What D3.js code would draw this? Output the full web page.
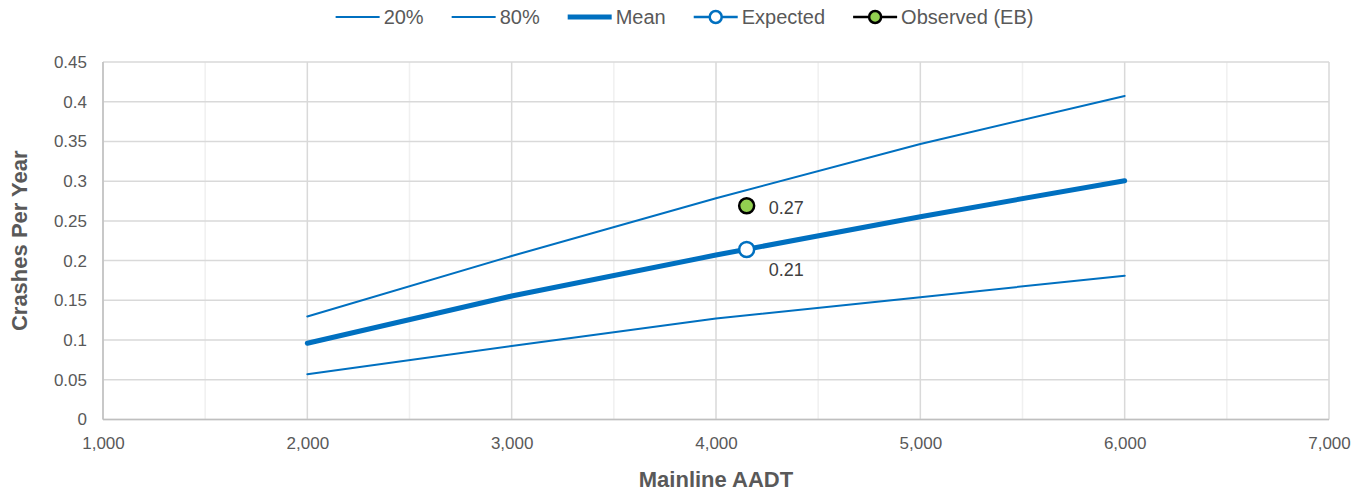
<!DOCTYPE html>
<html>
  <head>
    <meta charset="utf-8">
    <title>Crashes per year vs mainline AADT</title>
    <script src="https://d3js.org/d3.v7.min.js"></script>
    <style>
      body { margin: 0; background: #fff; font-family: "Liberation Sans", Arial, sans-serif; }
      svg { display: block; }
    </style>
  </head>
  <body>
    <svg id="chart" width="1369" height="492"></svg>
    <script>
      // data
      aadt = [2000, 3000, 4000, 5000, 6000];
      p20 = [0.057, 0.0925, 0.127, 0.154, 0.181];
      p80 = [0.1296, 0.2058, 0.2785, 0.3468, 0.4072];
      mean = [0.096, 0.1555, 0.207, 0.2553, 0.3006];
      expected = [[4150, 0.214]];
      observed = [[4150, 0.269]];
      xTicks = [1000, 2000, 3000, 4000, 5000, 6000, 7000];
      yTicks = [0, 0.05, 0.1, 0.15, 0.2, 0.25, 0.3, 0.35, 0.4, 0.45];
      legendItems = ["20%", "80%", "Mean", "Expected", "Observed (EB)"];

      blue = "#0070C0";
      grey = "#595959";
      svg = d3.select("#chart");
      width = 1369;

      x = d3.scaleLinear().domain([1000, 7000]).range([103, 1329]);
      y = d3.scaleLinear().domain([0, 0.45]).range([419.5, 62]);

      // minor vertical gridlines
      svg.append("g")
        .selectAll("line")
          .data(d3.range(1500, 7000, 1000))
        .enter().append("line")
          .attr("x1", function(d) { return x(d); })
          .attr("x2", function(d) { return x(d); })
          .attr("y1", y(0))
          .attr("y2", y(0.45))
          .style("stroke", "#f0f0f0")
          .style("stroke-width", 1.5);
      // major gridlines
      svg.append("g")
        .selectAll("line")
          .data(xTicks)
        .enter().append("line")
          .attr("x1", function(d) { return x(d); })
          .attr("x2", function(d) { return x(d); })
          .attr("y1", y(0))
          .attr("y2", y(0.45))
          .style("stroke", "#d9d9d9")
          .style("stroke-width", 1.5);
      svg.append("g")
        .selectAll("line")
          .data(yTicks)
        .enter().append("line")
          .attr("x1", x(1000))
          .attr("x2", x(7000))
          .attr("y1", function(d) { return y(d); })
          .attr("y2", function(d) { return y(d); })
          .style("stroke", "#d9d9d9")
          .style("stroke-width", 1.5);
      // axis lines
      svg.append("line")
        .attr("x1", x(1000)).attr("x2", x(7000))
        .attr("y1", y(0)).attr("y2", y(0))
        .style("stroke", "#bfbfbf").style("stroke-width", 1.5);
      svg.append("line")
        .attr("x1", x(1000)).attr("x2", x(1000))
        .attr("y1", y(0)).attr("y2", y(0.45))
        .style("stroke", "#bfbfbf").style("stroke-width", 1.5);

      // tick labels
      xAxis = d3.axisBottom(x)
        .tickValues(xTicks)
        .tickFormat(d3.format(","))
        .tickSize(0)
        .tickPadding(17);
      svg.append("g")
        .attr("transform", "translate(0," + y(0) + ")")
        .call(xAxis)
        .call(function(g) { g.select(".domain").remove(); })
        .selectAll("text")
          .style("font-size", "17px")
          .style("fill", grey)
          .style("font-family", "Liberation Sans, Arial, sans-serif");
      yAxis = d3.axisLeft(y)
        .tickValues(yTicks)
        .tickFormat(function(d) { return d3.format("~g")(d); })
        .tickSize(0)
        .tickPadding(16);
      svg.append("g")
        .attr("transform", "translate(" + x(1000) + ",0)")
        .call(yAxis)
        .call(function(g) { g.select(".domain").remove(); })
        .selectAll("text")
          .style("font-size", "17px")
          .style("fill", grey)
          .style("font-family", "Liberation Sans, Arial, sans-serif");

      // axis titles
      svg.append("text")
        .attr("x", (x(1000) + x(7000)) / 2)
        .attr("y", 487)
        .attr("text-anchor", "middle")
        .style("font-size", "22px")
        .style("font-weight", "bold")
        .style("fill", grey)
        .text("Mainline AADT");
      svg.append("text")
        .attr("transform", "translate(27," + (y(0) + y(0.45)) / 2 + ") rotate(-90)")
        .attr("text-anchor", "middle")
        .style("font-size", "22px")
        .style("font-weight", "bold")
        .style("fill", grey)
        .text("Crashes Per Year");

      // lines
      line = d3.line()
        .x(function(d) { return x(d[0]); })
        .y(function(d) { return y(d[1]); });
      function pairs(vals) { return aadt.map(function(a, i) { return [a, vals[i]]; }); }
      [[p20, 2], [p80, 2], [mean, 5]].forEach(function(s) {
        svg.append("path")
          .datum(pairs(s[0]))
          .attr("d", line)
          .style("fill", "none")
          .style("stroke", blue)
          .style("stroke-width", s[1])
          .style("stroke-linecap", "round")
          .style("stroke-linejoin", "round");
      });

      // points and labels
      svg.selectAll(".expected")
          .data(expected)
        .enter().append("circle")
          .attr("cx", function(d) { return x(d[0]); })
          .attr("cy", function(d) { return y(d[1]); })
          .attr("r", 7.5)
          .style("fill", "#fff")
          .style("stroke", blue)
          .style("stroke-width", 2.5);
      svg.selectAll(".observed")
          .data(observed)
        .enter().append("circle")
          .attr("cx", function(d) { return x(d[0]); })
          .attr("cy", function(d) { return y(d[1]); })
          .attr("r", 7.5)
          .style("fill", "#92D050")
          .style("stroke", "#000")
          .style("stroke-width", 2.5);
      svg.selectAll(".lblExp")
          .data(expected)
        .enter().append("text")
          .attr("x", function(d) { return x(d[0]) + 22; })
          .attr("y", function(d) { return y(d[1]) + 27; })
          .style("font-size", "18px")
          .style("fill", "#404040")
          .text(function(d) { return d3.format(".2f")(d[1]); });
      svg.selectAll(".lblObs")
          .data(observed)
        .enter().append("text")
          .attr("x", function(d) { return x(d[0]) + 22; })
          .attr("y", function(d) { return y(d[1]) + 8; })
          .style("font-size", "18px")
          .style("fill", "#404040")
          .text(function(d) { return d3.format(".2f")(d[1]); });

      // legend
      legend = svg.append("g");
      let pos = 0;
      legendItems.forEach(function(name, i) {
        let g = legend.append("g").attr("transform", "translate(" + pos + ",0)");
        let col = i == 4 ? "#000" : blue;
        g.append("line")
          .attr("x1", 0).attr("x2", 44)
          .attr("y1", 17).attr("y2", 17)
          .style("stroke", col)
          .style("stroke-width", i == 2 ? 5 : (i > 2 ? 2.5 : 2));
        if (i > 2) {
          g.append("circle")
            .attr("cx", 22).attr("cy", 17).attr("r", 6)
            .style("fill", i == 3 ? "#fff" : "#92D050")
            .style("stroke", col)
            .style("stroke-width", 2.5);
        }
        let t = g.append("text")
          .attr("x", 48).attr("y", 24)
          .style("font-size", "20px")
          .style("fill", grey)
          .text(name);
        pos += 48 + t.node().getComputedTextLength() + 28;
      });
      pos -= 28;
      legend.attr("transform", "translate(" + (width / 2 - pos / 2) + ",0)");
    </script>
  </body>
</html>
